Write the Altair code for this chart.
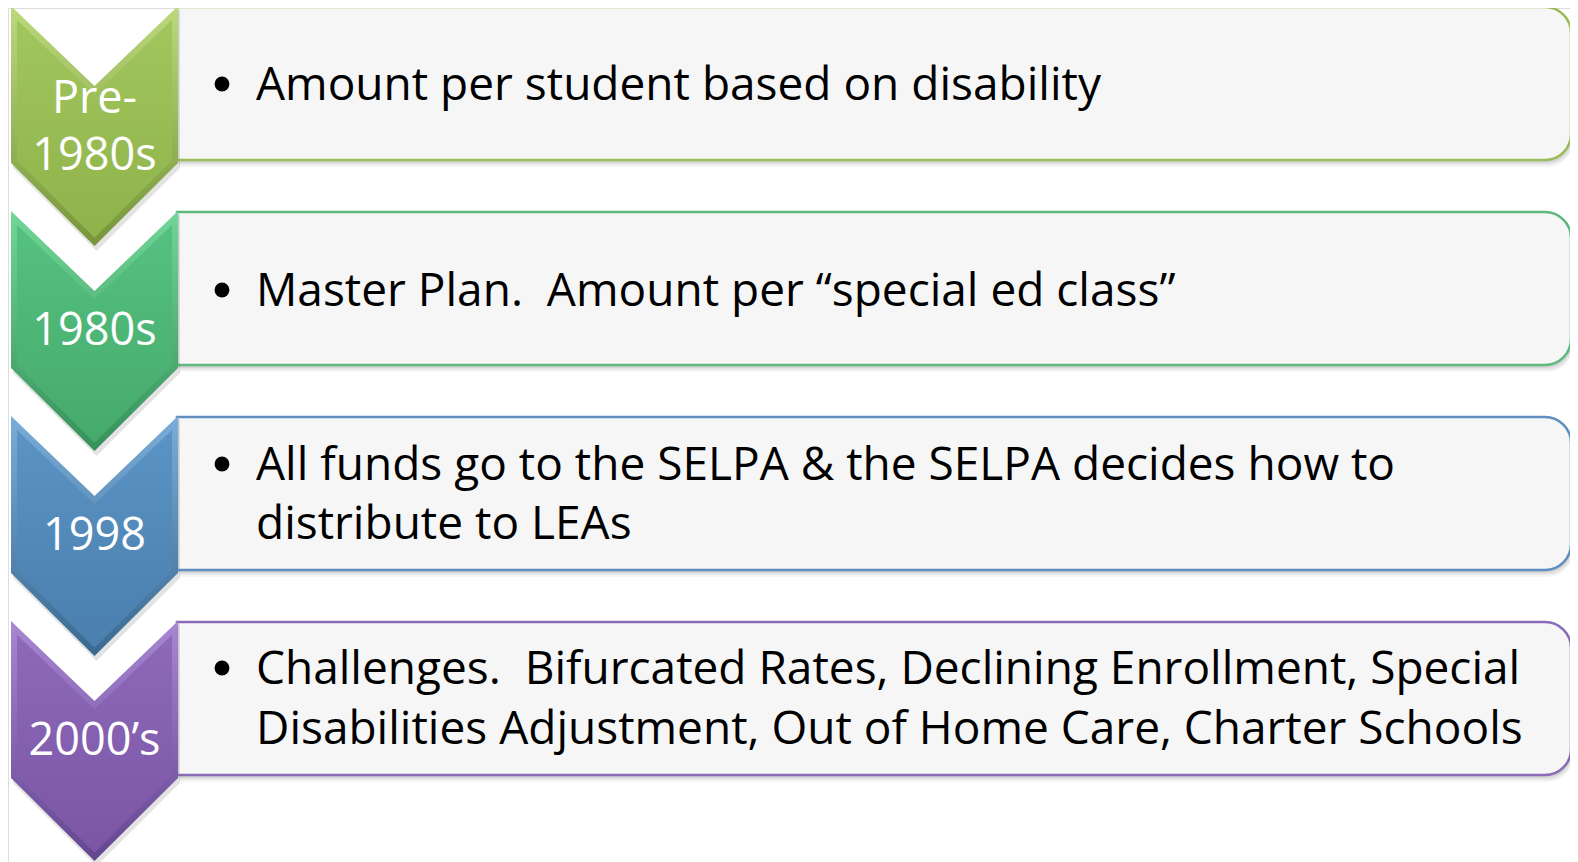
import altair as alt
import pandas as pd

# ---- data ----
row_tops = [6, 211, 416, 621]
chev_light = ["#BCDA7C", "#72D698", "#7AADD9", "#A887D3"]
chev_main_top = ["#A2C65E", "#55C181", "#5A93C4", "#8E69BA"]
chev_main_bot = ["#8FB34A", "#45AA6C", "#4A7FAE", "#7A56A5"]
chev_dark = ["#76953A", "#36905A", "#3A6990", "#634590"]
border_cols = ["#9BBB59", "#5DB97D", "#5E8FC0", "#8A6BB8"]

label_text = ["Pre-", "1980s", "1980s", "1998", "2000’s"]
label_y = [99, 156, 331, 536, 741]

line_text = [
    "Amount per student based on disability",
    "Master Plan.\u00a0 Amount per “special ed class”",
    "All funds go to the SELPA & the SELPA decides how to",
    "distribute to LEAs",
    "Challenges.\u00a0 Bifurcated Rates, Declining Enrollment, Special",
    "Disabilities Adjustment, Out of Home Care, Charter Schools",
]
line_y = [86, 292, 466, 525, 670, 730]
line_bullet = [True, True, True, False, True, False]

# ---- geometry ----
CHEV_L, CHEV_R = 11, 178
NOTCH, SIDE, POINT = 80, 157, 240
BOX_L, BOX_R, BOX_H = 177, 1571, 153

X = alt.Scale(domain=[8, 1570], nice=False, zero=False)
Y = alt.Scale(domain=[8, 862], nice=False, zero=False, reverse=True)
noax = dict(axis=None)

layers = []

# box shadows and boxes
box_df = pd.DataFrame({
    "x": [BOX_L] * 4, "x2": [BOX_R] * 4,
    "y": [t + 1 for t in row_tops], "y2": [t + 1 + BOX_H for t in row_tops],
    "border": border_cols,
})
for dx, dy, op in [(2, 7, 0.07), (2, 5, 0.12), (1, 3, 0.18)]:
    s = box_df.copy()
    s["x"] = s["x"] + dx
    s["x2"] = s["x2"] + dx
    s["y"] = s["y"] + dy
    s["y2"] = s["y2"] + dy
    layers.append(
        alt.Chart(s).mark_rect(
            fill="#7F7F7F", opacity=op, cornerRadiusTopRight=26, cornerRadiusBottomRight=26
        ).encode(
            x=alt.X("x:Q", scale=X, **noax), x2="x2:Q",
            y=alt.Y("y:Q", scale=Y, **noax), y2="y2:Q",
        )
    )
layers.append(
    alt.Chart(box_df).mark_rect(
        fill="#F6F6F6", strokeWidth=2.5, cornerRadiusTopRight=26, cornerRadiusBottomRight=26
    ).encode(
        x=alt.X("x:Q", scale=X, **noax), x2="x2:Q",
        y=alt.Y("y:Q", scale=Y, **noax), y2="y2:Q",
        stroke=alt.Stroke("border:N", scale=None),
    )
)


def vgrad(c1, c2):
    return alt.Gradient(
        gradient="linear",
        stops=[alt.GradientStop(color=c1, offset=0), alt.GradientStop(color=c2, offset=1)],
        x1=0, x2=0, y1=0, y2=1,
    )


# chevrons
mid = (CHEV_L + CHEV_R) / 2
D = 6            # bevel inset (horizontal)
DV = 8.3         # bevel inset (vertical, along the diagonal edges)
slope = NOTCH / (mid - CHEV_L)
for i, top in enumerate(row_tops):
    sd = pd.DataFrame({
        "x": [CHEV_L + 2, mid + 2, CHEV_R + 2],
        "y": [top + 3, top + NOTCH + 3, top + 3],
        "y2": [top + SIDE + 5, top + POINT + 5, top + SIDE + 5],
    })
    layers.append(
        alt.Chart(sd).mark_area(color="#808080", opacity=0.22).encode(
            x=alt.X("x:Q", scale=X, **noax),
            y=alt.Y("y:Q", scale=Y, **noax), y2="y2:Q",
        )
    )
    cd = pd.DataFrame({
        "x": [CHEV_L, mid, CHEV_R],
        "y": [top, top + NOTCH, top],
        "y2": [top + SIDE, top + POINT, top + SIDE],
    })
    layers.append(
        alt.Chart(cd).mark_area(color=vgrad(chev_light[i], chev_dark[i])).encode(
            x=alt.X("x:Q", scale=X, **noax),
            y=alt.Y("y:Q", scale=Y, **noax), y2="y2:Q",
        )
    )
    inner = pd.DataFrame({
        "x": [CHEV_L + D, mid, CHEV_R - D],
        "y": [top + slope * D + DV, top + NOTCH + DV, top + slope * D + DV],
        "y2": [top + SIDE + slope * D - DV, top + POINT - DV, top + SIDE + slope * D - DV],
    })
    layers.append(
        alt.Chart(inner).mark_area(color=vgrad(chev_main_top[i], chev_main_bot[i])).encode(
            x=alt.X("x:Q", scale=X, **noax),
            y=alt.Y("y:Q", scale=Y, **noax), y2="y2:Q",
        )
    )

# chevron labels
lab_df = pd.DataFrame({"t": label_text, "y": label_y, "x": [mid] * len(label_text)})
layers.append(
    alt.Chart(lab_df).mark_text(
        font="Open Sans", fontSize=45, color="white", align="center", baseline="middle"
    ).encode(
        x=alt.X("x:Q", scale=X, **noax), y=alt.Y("y:Q", scale=Y, **noax), text="t:N"
    )
)

# bullet text
txt_df = pd.DataFrame({"t": line_text, "y": line_y, "x": [256] * len(line_text)})
layers.append(
    alt.Chart(txt_df).mark_text(
        font="Open Sans", fontSize=46, color="black", align="left", baseline="middle"
    ).encode(
        x=alt.X("x:Q", scale=X, **noax), y=alt.Y("y:Q", scale=Y, **noax), text="t:N"
    )
)
bul_df = pd.DataFrame({
    "y": [y - 2 for y, b in zip(line_y, line_bullet) if b],
    "x": [222] * sum(line_bullet),
})
layers.append(
    alt.Chart(bul_df).mark_circle(size=220, color="black", opacity=1).encode(
        x=alt.X("x:Q", scale=X, **noax), y=alt.Y("y:Q", scale=Y, **noax)
    )
)

chart = alt.layer(*layers).properties(
    width=1562, height=854, padding=0, autosize=alt.AutoSizeParams(type="none")
).configure_view(strokeWidth=0, stroke=None).configure_axis(
    domain=False, grid=False, ticks=False, labels=False
).configure(background="white")

chart.save("out.html", embed_options={"renderer": "svg", "actions": False})
